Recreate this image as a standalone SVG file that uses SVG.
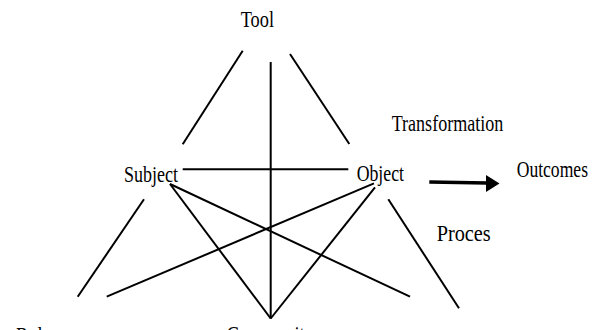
<svg xmlns="http://www.w3.org/2000/svg" width="598" height="330" viewBox="0 0 598 330">
<style>
text{font-family:"Liberation Serif","Times New Roman",serif;font-size:24px;fill:#000}
.c line{stroke:#000;stroke-width:2;stroke-linecap:butt}
</style>
<rect width="598" height="330" fill="#fff"/>
<g id="connectors" class="c">
<line x1="242.7" y1="50.7" x2="182.7" y2="144.3"/>
<line x1="270.7" y1="62" x2="270.7" y2="318.5"/>
<line x1="290" y1="54" x2="349.3" y2="144"/>
<line x1="182.7" y1="169.3" x2="348.3" y2="169.3"/>
<line x1="144" y1="199.3" x2="77.7" y2="296.7"/>
<line x1="106.7" y1="296.7" x2="374" y2="183.3"/>
<line x1="170" y1="184" x2="410" y2="296.7"/>
<line x1="170" y1="184" x2="270.7" y2="318.5"/>
<line x1="375" y1="187.3" x2="270.7" y2="318.5"/>
<line x1="388.3" y1="199.3" x2="459" y2="308.3"/>
<line x1="429.3" y1="182" x2="487" y2="183" style="stroke-width:3.5"/>
<polygon points="486,175 499.5,183.5 486,192" fill="#000"/>
</g>
<g id="tool"><text x="240.7" y="27.3" textLength="33.3" lengthAdjust="spacingAndGlyphs">Tool</text></g>
<g id="transformation"><text x="391.7" y="131" textLength="111.6" lengthAdjust="spacingAndGlyphs">Transformation</text></g>
<g id="subject"><text x="124" y="181.5" textLength="54" lengthAdjust="spacingAndGlyphs">Subject</text></g>
<g id="object"><text x="356.7" y="180.7" textLength="47.3" lengthAdjust="spacingAndGlyphs">Object</text></g>
<g id="outcomes"><text x="516.7" y="177.3" textLength="71.3" lengthAdjust="spacingAndGlyphs">Outcomes</text></g>
<g id="proces"><text x="436.7" y="240.7" textLength="54" lengthAdjust="spacingAndGlyphs">Proces</text></g>
<g id="rules"><text x="16" y="343" textLength="42" lengthAdjust="spacingAndGlyphs">Rules</text></g>
<g id="community"><text x="226.7" y="341.5" textLength="87" lengthAdjust="spacingAndGlyphs">Community</text></g>
</svg>
